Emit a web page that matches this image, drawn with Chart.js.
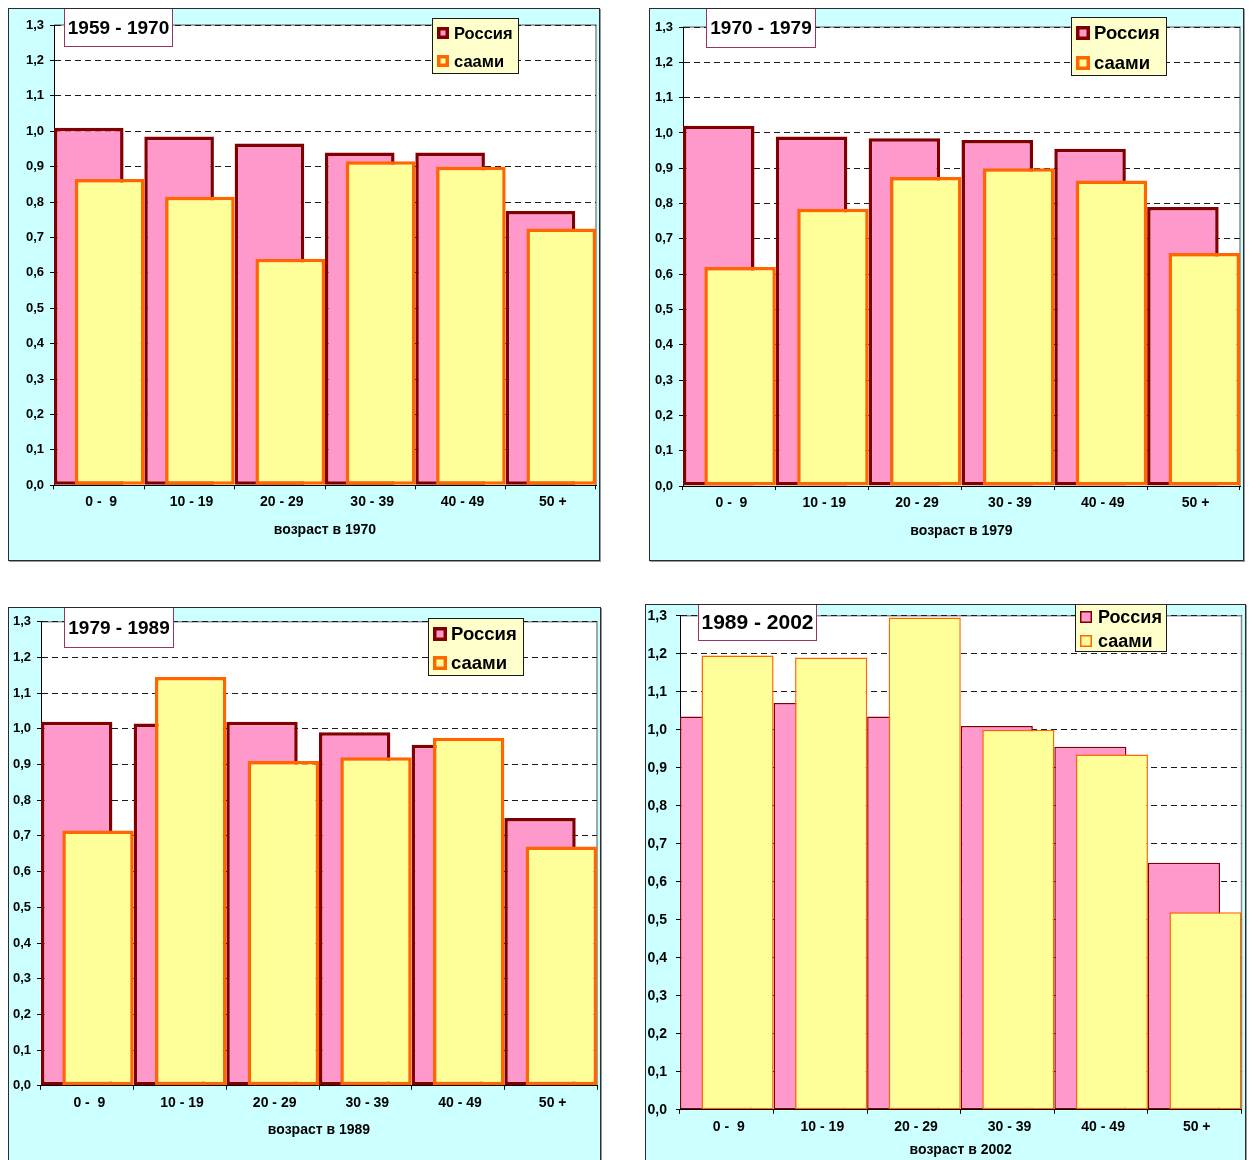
<!DOCTYPE html>
<html>
<head>
<meta charset="utf-8">
<script src="https://cdn.jsdelivr.net/npm/chart.js@4.4.1/dist/chart.umd.min.js"></script>
<style>
  html, body { margin: 0; padding: 0; background: #ffffff; width: 1250px; height: 1160px; overflow: hidden; }
  .panel { position: absolute; box-sizing: border-box; border: 1px solid #2b2b2b; background: #CCFFFF; box-shadow: 1px 1px 0 #9a9a9a; }
  .panel canvas { display: block; }
</style>
</head>
<body>
<div class="panel" id="p1"><canvas id="c1"></canvas></div>
<div class="panel" id="p2"><canvas id="c2"></canvas></div>
<div class="panel" id="p3"><canvas id="c3"></canvas></div>
<div class="panel" id="p4"><canvas id="c4"></canvas></div>
<script>
// Age groups (categories) and series names
const ageGroups = ['0 -  9', '10 - 19', '20 - 29', '30 - 39', '40 - 49', '50 +'];
const seriesNames = ['Россия', 'саами'];
const periods = ['1959 - 1970', '1970 - 1979', '1979 - 1989', '1989 - 2002'];
const axisTitles = ['возраст в 1970', 'возраст в 1979', 'возраст в 1989', 'возраст в 2002'];

// Cohort ratios per intercensal period
const russia1970 = [1.01, 0.985, 0.965, 0.94, 0.94, 0.775];
const saami1970  = [0.865, 0.815, 0.64, 0.915, 0.90, 0.725];
const russia1979 = [1.02, 0.99, 0.985, 0.98, 0.955, 0.79];
const saami1979  = [0.62, 0.785, 0.875, 0.90, 0.865, 0.66];
const russia1989 = [1.02, 1.015, 1.02, 0.99, 0.955, 0.75];
const saami1989  = [0.715, 1.145, 0.91, 0.92, 0.975, 0.67];
const russia2002 = [1.035, 1.07, 1.035, 1.01, 0.955, 0.65];
const saami2002  = [1.195, 1.19, 1.295, 1.00, 0.935, 0.52];

// Value axis range
const yMin = 0, yMax = 1.3, yStep = 0.1;

const russiaSeries = [russia1970, russia1979, russia1989, russia2002];
const saamiSeries = [saami1970, saami1979, saami1989, saami2002];

const FAMILY = "'Liberation Sans', Arial, Helvetica, sans-serif";
Chart.defaults.font.family = FAMILY;

// Page layout of the four panels (page pixel coordinates)
const panels = [
  { box: [8, 8, 599, 560], plot: [54, 25, 596, 485.3], tickY: 501.7, axisTitleY: 530,
    yFont: 13, yPad: 6, xFont: 14, aFont: 14, edge: 3.5,
    caption: { x: 64, y: 8, w: 109, h: 39, font: 19 },
    legend: { x: 432, y: 18, w: 87, h: 56, font: 16.5, markerX: 437, marker: 12, markerLine: 3.5, textX: 454, rows: [33, 61] } },
  { box: [649, 8, 1243, 560], plot: [683, 27, 1240, 486], tickY: 502.7, axisTitleY: 531,
    yFont: 13, yPad: 6, xFont: 14, aFont: 14, edge: 3.5,
    caption: { x: 706, y: 8, w: 110, h: 40, font: 19 },
    legend: { x: 1071, y: 17, w: 96, h: 59, font: 18.5, markerX: 1076, marker: 14, markerLine: 3.5, textX: 1094, rows: [33, 63] } },
  { box: [8, 607, 600, 1163], plot: [41, 621.7, 597, 1085.8], tickY: 1102.7, axisTitleY: 1130,
    yFont: 13, yPad: 6, xFont: 14, aFont: 14, edge: 3.5,
    caption: { x: 64, y: 607, w: 110, h: 41, font: 19 },
    legend: { x: 428, y: 618, w: 96, h: 58, font: 18.5, markerX: 433, marker: 14, markerLine: 3.5, textX: 451, rows: [634, 663] } },
  { box: [645, 604, 1245, 1167], plot: [680, 615.7, 1241.5, 1109.8], tickY: 1126.7, axisTitleY: 1150,
    yFont: 14, yPad: 9, xFont: 14, aFont: 14, edge: 1.5,
    caption: { x: 698, y: 604, w: 119, h: 37, font: 21 },
    legend: { x: 1075, y: 604, w: 92, h: 48, font: 18, markerX: 1080, marker: 12, markerLine: 1.5, textX: 1098, rows: [617, 641] } }
];

const COLORS = {
  russiaFill: '#FF99CC', russiaEdge: '#800000',
  saamiFill: '#FFFF99', saamiEdge: '#FF6600',
  captionEdge: '#993366', legendFill: '#FFFFCC'
};

// White plot area with a grey frame on top and right
const plotFrame = {
  id: 'plotFrame',
  beforeDraw(chart) {
    const { ctx, chartArea: a } = chart;
    ctx.save();
    ctx.fillStyle = '#ffffff';
    ctx.fillRect(a.left, a.top, a.right - a.left, a.bottom - a.top);
    ctx.strokeStyle = '#8c8c8c';
    ctx.lineWidth = 1.5;
    ctx.beginPath();
    ctx.moveTo(a.left, a.top);
    ctx.lineTo(a.right, a.top);
    ctx.lineTo(a.right, a.bottom);
    ctx.stroke();
    ctx.restore();
  }
};

// Paint series in dataset order so the second series sits in front
const paintInOrder = {
  id: 'paintInOrder',
  beforeDatasetsDraw(chart) {
    const metas = chart.getSortedVisibleDatasetMetas();
    for (const meta of metas) meta.controller.draw();
    return false;
  }
};

// Period caption box in the top-left corner
const captionBox = {
  id: 'captionBox',
  afterDraw(chart, args, opts) {
    const { ctx } = chart;
    const c = opts.box;
    ctx.save();
    ctx.fillStyle = '#ffffff';
    ctx.fillRect(c.x, c.y, c.w, c.h);
    ctx.strokeStyle = COLORS.captionEdge;
    ctx.lineWidth = 1;
    ctx.strokeRect(c.x + 0.5, c.y + 0.5, c.w - 1, c.h - 1);
    ctx.fillStyle = '#000000';
    ctx.font = 'bold ' + c.font + 'px ' + FAMILY;
    ctx.textAlign = 'center';
    ctx.textBaseline = 'middle';
    ctx.fillText(opts.text, c.x + c.w / 2, c.y + c.h / 2 + 1);
    ctx.restore();
  }
};

// Legend box built from the datasets
const legendBox = {
  id: 'legendBox',
  afterDraw(chart, args, opts) {
    const { ctx } = chart;
    const L = opts.box;
    ctx.save();
    ctx.fillStyle = COLORS.legendFill;
    ctx.fillRect(L.x, L.y, L.w, L.h);
    ctx.strokeStyle = '#1a1a1a';
    ctx.lineWidth = 1;
    ctx.strokeRect(L.x + 0.5, L.y + 0.5, L.w - 1, L.h - 1);
    chart.data.datasets.forEach((ds, i) => {
      const cy = L.rows[i];
      const m = L.marker, lw = L.markerLine;
      const top = Math.round(cy - m / 2);
      ctx.fillStyle = ds.backgroundColor;
      ctx.fillRect(L.markerX, top, m, m);
      ctx.strokeStyle = ds.borderColor;
      ctx.lineWidth = lw;
      ctx.strokeRect(L.markerX + lw / 2, top + lw / 2, m - lw, m - lw);
      ctx.fillStyle = '#000000';
      ctx.font = 'bold ' + L.font + 'px ' + FAMILY;
      ctx.textAlign = 'left';
      ctx.textBaseline = 'middle';
      ctx.fillText(ds.label, L.textX, cy + 1);
    });
    ctx.restore();
  }
};

function fmt(v) { return v.toFixed(1).replace('.', ','); }

panels.forEach((p, k) => {
  const [bl, bt, br, bb] = p.box;
  const div = document.getElementById('p' + (k + 1));
  const W = br - bl + 1, H = bb - bt + 1;
  div.style.left = bl + 'px';
  div.style.top = bt + 'px';
  div.style.width = W + 'px';
  div.style.height = H + 'px';
  const canvas = document.getElementById('c' + (k + 1));
  canvas.width = W - 2;
  canvas.height = H - 2;
  // canvas origin in page coordinates
  const ox = bl + 1, oy = bt + 1;
  const [pl, pt, pr, pb] = p.plot;

  const toLocal = (r) => Object.assign({}, r, { x: r.x - ox, y: r.y - oy });
  const legend = Object.assign({}, toLocal(p.legend), {
    markerX: p.legend.markerX - ox, textX: p.legend.textX - ox,
    rows: p.legend.rows.map(r => r - oy)
  });

  new Chart(canvas, {
    type: 'bar',
    data: {
      labels: ageGroups,
      datasets: [
        { label: seriesNames[0], data: russiaSeries[k],
          backgroundColor: COLORS.russiaFill, borderColor: COLORS.russiaEdge,
          borderWidth: p.edge, borderSkipped: false },
        { label: seriesNames[1], data: saamiSeries[k],
          backgroundColor: COLORS.saamiFill, borderColor: COLORS.saamiEdge,
          borderWidth: p.edge, borderSkipped: false }
      ]
    },
    options: {
      responsive: false,
      animation: false,
      devicePixelRatio: 1,
      events: [],
      layout: { padding: { top: pt - oy, right: br - pr, left: 0, bottom: 0 } },
      datasets: { bar: { categoryPercentage: 0.46, barPercentage: 3.35 } },
      plugins: {
        legend: { display: false },
        tooltip: { enabled: false },
        captionBox: { text: periods[k], box: toLocal(p.caption) },
        legendBox: { box: legend }
      },
      scales: {
        x: {
          offset: true,
          grid: { offset: true, drawOnChartArea: false, drawTicks: true, tickLength: 4, color: '#000000', tickColor: '#000000' },
          border: { color: '#000000', width: 1 },
          ticks: { color: '#000000', font: { size: p.xFont, weight: 'bold' }, maxRotation: 0, autoSkip: false,
                   labelOffset: 2, padding: p.tickY - pb - 4 - 0.6 * p.xFont },
          title: { display: true, text: axisTitles[k], color: '#000000',
                   font: { size: p.aFont, weight: 'bold' },
                   padding: { top: 0, bottom: bb - p.axisTitleY - 0.6 * p.aFont } },
          afterFit(scale) {
            scale.height = bb - pb;
            scale.paddingLeft = 0;
            scale.paddingRight = 0;
          }
        },
        y: {
          min: yMin, max: yMax,
          ticks: { stepSize: yStep, color: '#000000', font: { size: p.yFont, weight: 'bold' },
                   padding: p.yPad, callback: (v) => fmt(v) },
          grid: { color: '#1a1a1a', lineWidth: 1, tickColor: '#000000', tickLength: 4, tickBorderDash: [] },
          border: { display: true, color: '#000000', width: 1, dash: [6, 4] },
          afterFit(scale) {
            scale.width = pl - ox;
            scale.paddingTop = 0;
            scale.paddingBottom = 0;
          }
        }
      }
    },
    plugins: [plotFrame, paintInOrder, captionBox, legendBox]
  });
});
</script>
</body>
</html>
